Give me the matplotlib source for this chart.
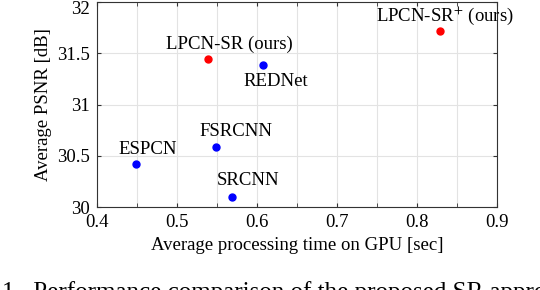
import numpy as np
import matplotlib
matplotlib.use("Agg")
import matplotlib.pyplot as plt
import matplotlib.transforms as mtransforms

plt.rcParams['font.family'] = ['Liberation Serif', 'DejaVu Serif']
plt.rcParams['mathtext.fontset'] = 'stix'

# methods, GPU time [sec] and PSNR [dB]
methods = ["ESPCN", "FSRCNN", "SRCNN", "REDNet", "LPCN-SR (ours)", r"LPCN-SR$^{+}$ (ours)"]
gpu_time = [0.449, 0.549, 0.569, 0.608, 0.539, 0.829]
psnr = [30.42, 30.585, 30.10, 31.385, 31.44, 31.72]
is_ours = [False, False, False, False, True, True]

x_ticks = [0.4, 0.5, 0.6, 0.7, 0.8, 0.9]
x_minor = [0.45, 0.55, 0.65, 0.75, 0.85]
y_ticks = [30, 30.5, 31, 31.5, 32]

# label offsets from each dot, in pixels
label_offsets = [(12, 14), (20, 16), (16, 16), (12, -16), (21, 15), (5, 15)]

fig = plt.figure(figsize=(5.4, 2.9), dpi=100)
ax = fig.add_axes([97 / 540, 83 / 290, 400 / 540, 205 / 290])

for x, y, name, ours, off in zip(gpu_time, psnr, methods, is_ours, label_offsets):
    ax.plot(x, y, 'o', color='red' if ours else 'blue', markersize=5, zorder=3)
    ax.annotate(name, (x, y), xytext=off, textcoords='offset pixels',
                ha='center', va='center', fontsize=13.5)

ax.set_xlim(0.4, 0.9)
ax.set_ylim(30, 32)
ax.set_xticks(x_ticks)
ax.set_xticks(x_minor, minor=True)
ax.set_xticklabels([f"{t:g}" for t in x_ticks])
ax.set_yticks(y_ticks)
ax.set_yticklabels([f"{t:g}" for t in y_ticks])
ax.grid(True, which='both', color='#e3e3e3', linewidth=0.8)
ax.set_axisbelow(True)
ax.tick_params(which='both', direction='in', top=True, right=True,
               labelsize=13.5, color='#333333', length=3, pad=5)
for s in ax.spines.values():
    s.set_color('#333333')
    s.set_linewidth(0.8)

# top y label sits a bit lower so it stays inside the picture
top_lbl = ax.get_yticklabels()[-1]
top_lbl.set_transform(top_lbl.get_transform() +
                      mtransforms.ScaledTranslation(0, -6 / 100, fig.dpi_scale_trans))

ax.set_xlabel("Average processing time on GPU [sec]", fontsize=13.5, labelpad=4)
ax.set_ylabel("Average PSNR [dB]", fontsize=13.5, labelpad=4)

# caption of the page, cut off at the bottom of the crop
fig.text(-44 / 540, 1 - 281 / 290, "Fig. 1.  Performance comparison of the proposed SR approach",
         fontsize=18, va='top', ha='left')

fig.savefig("out.png", dpi=100)
